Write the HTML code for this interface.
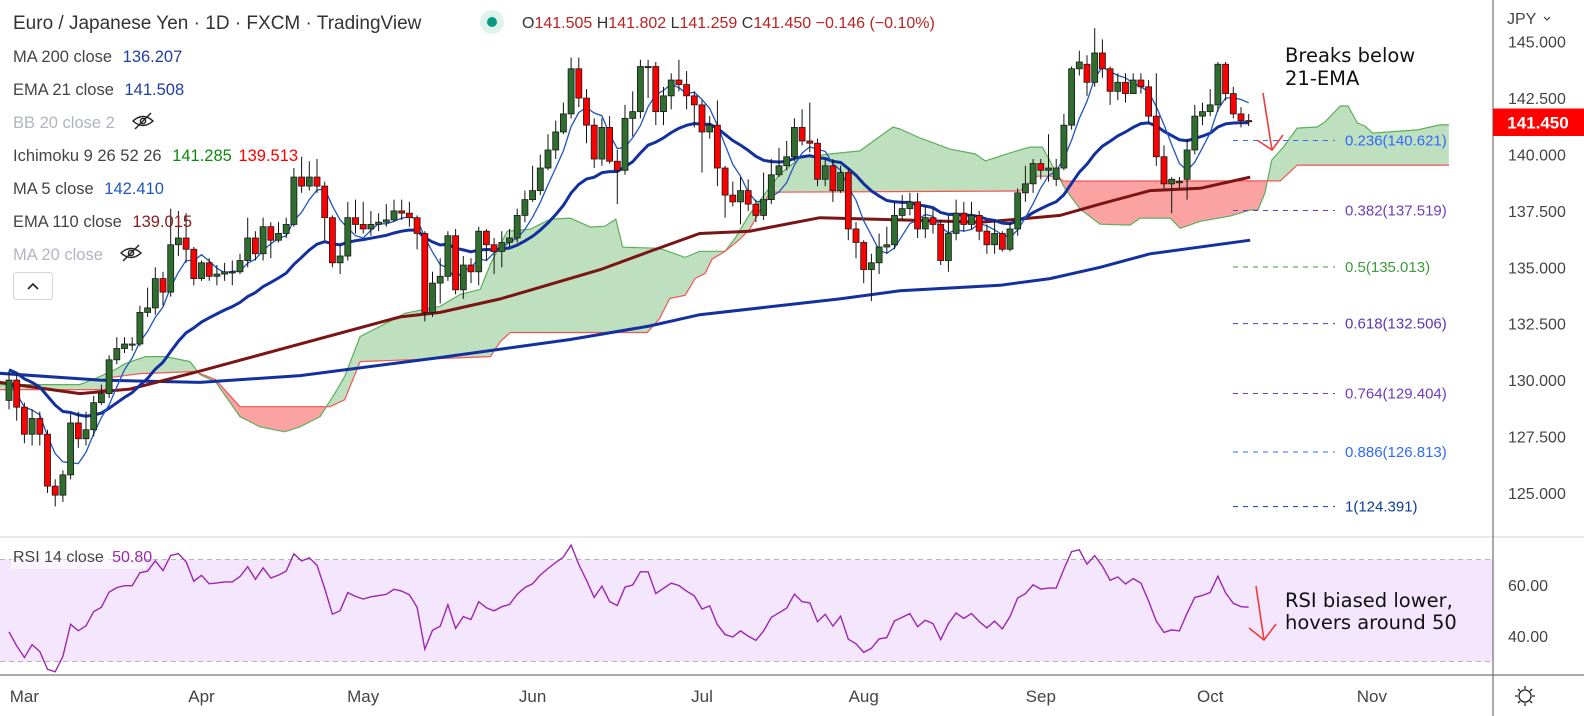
<!DOCTYPE html>
<html><head><meta charset="utf-8"><style>
html,body{margin:0;padding:0;background:#fff;}
svg{display:block;font-family:"Liberation Sans",sans-serif;}
</style></head><body>
<svg id="chart" width="1584" height="716" viewBox="0 0 1584 716" xmlns="http://www.w3.org/2000/svg">
<defs>
<clipPath id="mainClip"><rect x="0" y="0" width="1493" height="537"/></clipPath>
<clipPath id="rsiClip"><rect x="0" y="538" width="1493" height="137"/></clipPath>
</defs>
<rect x="0" y="0" width="1584" height="716" fill="#fff"/>
<g id="cloud" clip-path="url(#mainClip)"></g>
<g id="lines" clip-path="url(#mainClip)"></g>
<g id="candles" clip-path="url(#mainClip)"></g>
<g id="fib"></g>
<g id="rsi">
<rect x="0" y="559.5" width="1493" height="102" fill="#f3e6fd"/>
<line x1="0" y1="559.5" x2="1493" y2="559.5" stroke="#b2b5be" stroke-dasharray="5,4"/>
<line x1="0" y1="661.5" x2="1493" y2="661.5" stroke="#b2b5be" stroke-dasharray="5,4"/>
</g>
<!-- separators / axes -->
<line x1="0" y1="537" x2="1584" y2="537" stroke="#e0e3eb" stroke-width="1.5"/>
<line x1="1493" y1="0" x2="1493" y2="716" stroke="#555" stroke-width="1"/>
<line x1="0" y1="675" x2="1584" y2="675" stroke="#555" stroke-width="1"/>
<g id="axes" font-size="16" fill="#444"></g>
<text x="1507" y="24" font-size="16" fill="#444">JPY</text>
<path d="M1544 17 l3 3 l3 -3" stroke="#444" fill="none" stroke-width="1.2"/>
<rect x="1493" y="108.5" width="91" height="27.5" fill="#ff0000"/>
<text x="1538" y="128.5" font-size="17" fill="#fff" text-anchor="middle" font-weight="bold">141.450</text>
<g stroke="#222" fill="none" stroke-width="1.3">
<circle cx="1525" cy="696" r="6"/>
<path d="M1525 686v3M1525 703v3M1515 696h3M1532 696h3M1518 689l2 2M1530 701l2 2M1532 689l-2 2M1518 703l2 -2"/>
</g>
<!-- header -->
<text x="13" y="29" font-size="19" fill="#333">Euro / Japanese Yen · 1D · FXCM · TradingView</text>
<circle cx="492" cy="22" r="12" fill="#dff3ec"/>
<circle cx="492" cy="22" r="5" fill="#089981"/>
<text x="522" y="28" font-size="16" fill="#333">O<tspan fill="#b22">141.505</tspan> H<tspan fill="#b22">141.802</tspan> L<tspan fill="#b22">141.259</tspan> C<tspan fill="#b22">141.450</tspan> <tspan fill="#b22">−0.146 (−0.10%)</tspan></text>
<g font-size="16.5" fill="#444">
<text x="13" y="62">MA 200 close <tspan fill="#1f3fa0" dx="6">136.207</tspan></text>
<text x="13" y="95">EMA 21 close <tspan fill="#1f3fa0" dx="6">141.508</tspan></text>
<text x="13" y="128" fill="#b2b5be">BB 20 close 2</text>
<text x="13" y="161">Ichimoku 9 26 52 26 <tspan fill="#0a8a0a" dx="6">141.285</tspan> <tspan fill="#f00" dx="2">139.513</tspan></text>
<text x="13" y="194">MA 5 close <tspan fill="#1f56c0" dx="6">142.410</tspan></text>
<text x="13" y="227">EMA 110 close <tspan fill="#8b1a1a" dx="6">139.015</tspan></text>
<text x="13" y="260" fill="#b2b5be">MA 20 close</text>
</g>
<g stroke="#222" fill="none" stroke-width="1.4">
<path d="M133 121 q10 -9 20 0 q-10 9 -20 0z"/><circle cx="143" cy="121" r="2.6"/><path d="M135 129 l16 -16"/></g>
<g stroke="#222" fill="none" stroke-width="1.4">
<path d="M121 253 q10 -9 20 0 q-10 9 -20 0z"/><circle cx="131" cy="253" r="2.6"/><path d="M123 261 l16 -16"/></g>
<rect x="13.5" y="272.5" width="39" height="27" rx="3" fill="#fff" stroke="#d1d4dc"/>
<path d="M28 289 l5 -5 l5 5" stroke="#222" fill="none" stroke-width="1.6"/>
<!-- annotations -->
<text x="1285" y="62" font-size="19.5" font-family="DejaVu Sans, sans-serif" fill="#111">Breaks below</text>
<text x="1285" y="85" font-size="19.5" font-family="DejaVu Sans, sans-serif" fill="#111">21-EMA</text>
<path d="M1263 93 L1272 150 M1257 140 L1272 150 L1283 135" stroke="#f23b3b" stroke-width="1.6" fill="none"/>
<rect x="11" y="545" width="135" height="24" fill="#fff" fill-opacity="0.6"/>
<text x="13" y="562" font-size="16" fill="#444">RSI 14 close <tspan fill="#9c27b0" dx="4">50.80</tspan></text>
<text x="1285" y="607" font-size="19.5" font-family="DejaVu Sans, sans-serif" fill="#111">RSI biased lower,</text>
<text x="1285" y="629" font-size="19.5" font-family="DejaVu Sans, sans-serif" fill="#111">hovers around 50</text>
<path d="M1256 586 L1264 640 M1249 628 L1264 640 L1276 624" stroke="#f23b3b" stroke-width="1.6" fill="none"/>
</svg>
<script>
const opens=[129.1,130.0,128.8,127.6,128.3,127.6,125.3,124.9,125.8,128.1,
127.4,127.8,129.0,129.4,130.9,131.4,131.6,131.6,133.0,133.2,
134.5,133.9,136.0,136.3,135.8,134.5,135.2,134.6,134.7,134.8,
134.8,135.3,136.3,135.6,136.8,136.2,136.5,136.9,139.0,138.6,
139.0,138.6,137.2,135.2,135.5,137.2,136.9,136.7,136.9,137.0,
137.1,137.5,137.4,137.2,136.5,133.0,134.3,134.6,136.4,134.0,
135.1,134.8,136.6,136.0,135.7,136.1,136.3,137.3,138.0,138.4,
139.4,140.2,141.0,141.8,143.8,142.5,141.3,139.8,141.2,139.7,
139.3,141.6,141.9,143.9,143.9,141.9,142.6,143.3,143.1,142.6,
142.2,141.0,141.3,139.4,138.2,137.9,138.4,137.8,137.3,138.0,
139.1,139.5,139.9,141.2,140.6,140.5,138.9,139.5,138.4,139.2,
136.7,136.1,134.9,135.2,135.9,136.0,137.3,137.6,137.9,136.7,
137.2,136.9,135.3,136.5,137.4,136.9,137.3,136.6,136.0,136.5,
135.8,136.7,138.3,138.7,139.6,139.3,138.9,139.4,141.3,143.8,
144.0,143.2,144.5,143.8,142.8,143.2,142.7,143.3,143.0,141.7,
139.9,138.7,138.8,138.9,140.2,141.7,141.9,142.2,144.0,142.7,
141.8,141.505];
const closes=[130.0,128.8,127.6,128.3,127.6,125.3,124.9,125.8,128.1,127.4,
127.8,129.0,129.4,130.9,131.4,131.6,131.6,133.0,133.2,134.5,
133.9,136.0,136.3,135.8,134.5,135.2,134.6,134.7,134.8,134.8,
135.3,136.3,135.6,136.8,136.2,136.5,136.9,139.0,138.6,139.0,
138.6,137.2,135.2,135.5,137.2,136.9,136.7,136.9,137.0,137.1,
137.5,137.4,137.2,136.5,133.0,134.3,134.6,136.4,134.0,135.1,
134.8,136.6,136.0,135.7,136.1,136.3,137.3,138.0,138.4,139.4,
140.2,141.0,141.8,143.8,142.5,141.3,139.8,141.2,139.7,139.3,
141.6,141.9,143.9,143.9,141.9,142.6,143.3,143.1,142.6,142.2,
141.0,141.3,139.4,138.2,137.9,138.4,137.8,137.3,138.0,139.1,
139.5,139.9,141.2,140.6,140.5,138.9,139.5,138.4,139.2,136.7,
136.1,134.9,135.2,135.9,136.0,137.3,137.6,137.9,136.7,137.2,
136.9,135.3,136.5,137.4,136.9,137.3,136.6,136.0,136.5,135.8,
136.7,138.3,138.7,139.6,139.3,139.4,139.4,141.3,143.8,144.1,
143.2,144.5,143.8,142.8,143.2,142.7,143.3,143.0,141.7,139.9,
138.7,138.9,138.8,140.2,141.7,141.9,142.2,144.0,142.7,141.8,
141.5,141.45];
const highs=[130.4,130.3,129.0,128.7,128.6,127.8,125.6,126.0,128.5,128.6,
128.6,129.3,129.8,131.1,131.9,131.9,131.9,133.3,134.1,135.0,
134.8,137.6,137.5,137.4,135.9,135.3,135.4,135.1,135.2,135.3,
135.6,137.2,136.6,137.2,137.0,137.0,137.2,139.4,139.9,139.7,
139.8,138.8,137.3,136.0,137.9,138.0,137.9,137.5,137.4,137.8,
138.0,138.0,137.9,137.3,136.6,134.8,135.4,136.6,136.7,135.5,
135.4,136.8,136.7,136.3,136.6,136.7,137.6,138.4,139.5,140.0,
140.9,141.5,142.3,144.3,144.3,142.9,141.6,141.6,141.7,140.2,
142.2,142.8,144.2,144.2,144.1,143.0,143.6,144.2,143.7,142.8,
142.4,141.7,142.4,139.5,138.8,139.0,138.9,138.0,139.2,139.8,
140.3,140.6,141.6,142.0,142.3,140.7,139.8,139.8,139.5,139.4,
137.0,136.2,135.6,136.5,136.8,137.9,138.2,138.3,138.3,137.7,
137.6,137.1,137.3,138.0,137.9,137.9,137.5,136.9,137.1,136.6,
137.0,138.5,139.5,139.8,139.8,140.9,139.8,141.8,143.9,144.6,
144.4,145.6,145.1,143.9,143.6,143.6,143.6,143.6,143.3,143.6,
140.4,139.0,139.0,140.7,142.2,142.3,142.9,144.1,144.1,143.0,
142.1,141.802];
const lows=[128.7,128.2,127.2,127.1,127.1,125.0,124.4,124.6,125.6,127.0,
127.1,127.5,128.9,129.2,130.7,131.2,131.3,131.5,132.8,132.9,
133.3,133.7,135.5,135.2,134.2,134.4,134.4,134.2,134.4,134.2,
134.7,135.0,135.3,135.3,135.4,136.1,136.3,136.8,138.3,138.4,
138.3,136.2,135.0,134.7,135.3,136.5,136.5,136.4,136.6,136.8,
137.0,137.1,136.8,135.8,132.6,132.8,133.4,134.4,133.8,133.6,
134.3,134.2,135.3,134.7,135.0,135.9,136.1,137.0,137.9,138.2,
139.3,139.8,140.9,141.6,142.1,140.5,139.4,139.5,139.6,137.8,
139.1,140.8,141.6,142.5,141.3,141.3,142.0,142.8,142.0,141.2,
139.2,140.7,138.6,137.2,137.7,136.9,137.5,137.0,137.1,137.8,
139.0,139.3,139.7,140.4,140.1,138.6,138.6,137.9,138.3,136.2,
135.4,134.3,133.5,134.7,135.6,135.8,137.1,137.3,136.3,136.3,
136.5,135.1,134.8,136.2,136.6,136.7,136.2,135.6,135.6,135.7,
135.7,136.4,137.9,138.3,138.9,138.8,138.6,139.3,141.1,143.5,
142.6,143.0,143.4,142.2,142.4,142.3,142.7,142.7,141.4,139.5,
138.5,137.4,138.5,138.0,140.0,141.3,141.7,141.9,142.4,141.6,
141.2,141.259];
const ema110Idx=[-1.2,9.2,15.7,24.8,50.8,56,63.8,76.8,83.2,89.7,96.2,105.3,115.7,126.1,130,136.5,141.7,148.2,154.7,161.2];
const ema110Val=[129.9,129.4,129.6,130.4,132.8,133.0,133.6,134.9,135.7,136.5,136.6,137.2,137.1,137.0,137.1,137.3,137.8,138.4,138.5,139.0];
const ma200Idx=[-1.2,11.8,24.8,37.8,56,72.9,83.2,89.7,102.7,107.9,115.7,128.7,135.2,141.7,148.2,161.2];
const ma200Val=[130.3,130.0,129.9,130.2,131.0,131.8,132.4,132.9,133.4,133.6,133.96,134.2,134.5,135.0,135.6,136.2];
const spanAIdx=[-1.2,9.2,11.2,13.8,15.1,17.7,20.3,23.5,24.8,26.8,30,32.6,35.8,37.8,40.4,42.3,43.6,45.6,48.2,51.4,56,58.6,61.2,62.5,64.7,67.7,70.3,72.9,75.5,77.4,78.8,79.7,84.5,87.8,89.7,93,94.3,96.2,100.1,102.7,106.6,110.5,114.8,115.7,118.3,122.2,125.5,126.8,130,132.6,134.2,135.2,137.1,139.1,141.7,145.6,146.9,150.8,152.1,154.7,158.6,161.2,162.2,163.1,164,165.5,167.3,169.9,170.9,172.9,173.9,175.1,176.1,177.1,182.9,185.8,187];
const spanAVal=[129.8,129.8,130.07,130.47,130.73,131.04,131.04,130.82,130.24,129.93,128.38,127.93,127.71,127.93,128.38,129.4,130.16,131.93,132.38,132.96,133.27,133.8,134.02,135.13,136.6,136.69,137.13,137.18,136.78,136.82,137.13,135.89,135.84,135.44,135.71,135.71,136.29,137.36,139.13,139.84,140.02,140.16,141.22,141.13,140.73,140.24,140.02,139.71,140.07,140.33,140.33,139.71,138.51,137.58,136.91,136.87,137.18,137.18,136.73,137.04,137.27,137.54,137.54,138.29,139.76,140.33,141.17,141.22,141.44,142.15,142.15,141.4,141.26,140.95,141.09,141.31,141.31];
const spanBIdx=[-1.2,12.5,13.1,17,24.2,26.8,30,41.7,43.6,45.6,62.5,63.8,65.1,82.9,84.5,85.8,87.8,89.1,90.4,91.3,93,94.9,96.2,97.5,98.8,131.3,133.5,136.2,136.9,165.1,167.3,187];
const spanBVal=[129.58,129.58,130.11,130.29,130.38,130.02,128.82,128.82,129.13,130.82,131.04,131.71,132.11,132.11,132.73,133.62,133.76,134.51,134.73,135.36,135.71,136.24,136.69,137.49,138.33,138.38,139.04,139.04,138.82,138.83,139.53,139.53];
const fibRatios=["0.236","0.382","0.5","0.618","0.764","0.886","1"];
const fibPrices=[140.621,137.519,135.013,132.506,129.404,126.813,124.391];
const fibColors=["#2f6bff","#6a3fc0","#3d9a3d","#5a35b8","#6a3fc0","#2f6bff","#0d3c99"];
const priceTicks=[145,142.5,140,137.5,135,132.5,130,127.5,125];
const rsiTicks=[60,40];
const monthLabels=["Mar","Apr","May","Jun","Jul","Aug","Sep","Oct","Nov"];
const monthIdx=[2,25,46,68,90,111,134,156,177];

const NS="http://www.w3.org/2000/svg";
function X(k){return 9+k*7.7;}
function Y(p){return 41.7+(145-p)*22.56;}
function RY(r){return 585+(60-r)*2.55;}
function mk(tag,attrs,parent){const e=document.createElementNS(NS,tag);for(const a in attrs)e.setAttribute(a,attrs[a]);parent.appendChild(e);return e;}
function pts(idx,val,fy){return idx.map((k,i)=>X(k).toFixed(1)+","+fy(val[i]).toFixed(1));}

// cloud
const cloud=document.getElementById('cloud');
const aPts=pts(spanAIdx,spanAVal,Y), bPts=pts(spanBIdx,spanBVal,Y);
const defs=document.querySelector('defs');
const x0=X(spanBIdx[0]), x1=X(spanBIdx[spanBIdx.length-1]);
const cg=mk('clipPath',{id:'aboveB'},defs);
mk('polygon',{points:bPts.join(' ')+` ${x1},0 ${x0},0`},cg);
const cr=mk('clipPath',{id:'belowB'},defs);
mk('polygon',{points:bPts.join(' ')+` ${x1},716 ${x0},716`},cr);
const polyStr=aPts.join(' ')+' '+bPts.slice().reverse().join(' ');
const gFill=mk('polygon',{points:polyStr,fill:'#bfe0bf','clip-path':'url(#aboveB)'},cloud);


const rFill=mk('polygon',{points:polyStr,fill:'#fba3a3','clip-path':'url(#belowB)'},cloud);


const la=mk('polyline',{points:aPts.join(' '),fill:'none',stroke:'#5cae5c','stroke-width':1.2},cloud);


const lb=mk('polyline',{points:bPts.join(' '),fill:'none',stroke:'#f25555','stroke-width':1.2},cloud);



// lines
const lines=document.getElementById('lines');
const l200=mk('polyline',{points:pts(ma200Idx,ma200Val,Y).join(' '),fill:'none',stroke:'#12309e','stroke-width':3},lines);


const l110=mk('polyline',{points:pts(ema110Idx,ema110Val,Y).join(' '),fill:'none',stroke:'#7b1414','stroke-width':3},lines);


const idx=closes.map((c,i)=>i);
let e=130.5; const ema21=closes.map(c=>(e=e+(c-e)*2/22));
const ma5=closes.map((c,i)=>{const s=closes.slice(Math.max(0,i-4),i+1);return s.reduce((a,b)=>a+b,0)/s.length;});
const l21=mk('polyline',{points:pts(idx,ema21,Y).join(' '),fill:'none',stroke:'#12309e','stroke-width':3},lines);


const l5=mk('polyline',{points:pts(idx,ma5,Y).join(' '),fill:'none',stroke:'#1f56c0','stroke-width':1.3},lines);



// candles
const cgp=document.getElementById('candles');
closes.forEach((c,i)=>{
  const o=opens[i],x=X(i),up=c>=o;
  const w=mk('line',{x1:x,x2:x,y1:Y(highs[i]),y2:Y(lows[i]),stroke:'#111','stroke-width':1},cgp);
  
  
  const top=Y(Math.max(o,c)),h=Math.max(1.2,Math.abs(Y(o)-Y(c)));
  const r=mk('rect',{x:x-3,y:top,width:6,height:h,fill:up?'#2f6e2f':'#ff0000',stroke:'#1a1a1a','stroke-width':0.8},cgp);
  
  
});

// fib
const fib=document.getElementById('fib');
fibPrices.forEach((p,i)=>{
  const y=Y(p);
  const l=mk('line',{x1:1233,x2:1335,y1:y,y2:y,stroke:fibColors[i],'stroke-dasharray':'5,5','stroke-width':1},fib);
  
  
  const t=mk('text',{x:1345,y:y+5,'font-size':15,fill:fibColors[i]},fib);
  t.textContent=fibRatios[i]+"("+p.toFixed(3)+")";
  
  
});

// RSI
let ag=0.25,al=0.35; const rsi=closes.map((c,i)=>{
  if(i>0){const d=c-closes[i-1];ag=(ag*13+Math.max(d,0))/14;al=(al*13+Math.max(-d,0))/14;}
  return 100-100/(1+ag/al);});
const rg=document.getElementById('rsi');
const rl=mk('polyline',{points:pts(idx,rsi,RY).join(' '),fill:'none',stroke:'#9c27b0','stroke-width':1.4,'clip-path':'url(#rsiClip)'},rg);



// axes
const ax=document.getElementById('axes');
priceTicks.forEach(p=>{
  if(Math.abs(Y(p)-122)<14)return;
  const t=mk('text',{x:1508,y:Y(p)+6},ax);
  t.textContent=p.toFixed(3);
  
  
});
rsiTicks.forEach(r=>{
  const t=mk('text',{x:1508,y:RY(r)+6},ax);
  t.textContent=r.toFixed(2);
  
  
});
monthLabels.forEach((m,i)=>{
  const t=mk('text',{x:X(monthIdx[i]),y:702,'text-anchor':'middle','font-size':17},ax);
  t.textContent=m;
  
  
});
</script>
</body></html>
